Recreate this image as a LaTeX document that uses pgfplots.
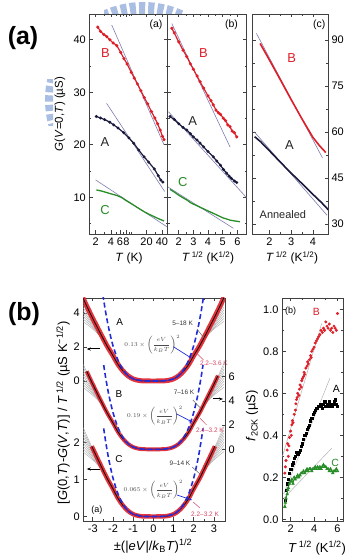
\documentclass[border=0pt]{standalone}
\usepackage{fontspec}
\setmainfont{Liberation Sans}
\usepackage{pgfplots}
\pgfplotsset{compat=1.18}
\usepackage{pgfplotstable}
\usetikzlibrary{arrows.meta}

\definecolor{rd}{RGB}{222,30,40}
\definecolor{nv}{RGB}{25,25,60}
\definecolor{gn}{RGB}{40,140,40}
\definecolor{fit}{RGB}{125,125,175}
\definecolor{bl}{RGB}{35,45,215}
\definecolor{wm}{RGB}{170,190,228}
\definecolor{pk}{RGB}{215,70,100}

% ---------- upper panel (a): G vs T (log) ----------
\pgfplotstableread{
x y
2.2 42.4
2.5 41.6
2.9 41.0
3.3 40.6
3.8 40.0
4.4 39.4
5.2 38.9
6.2 37.6
7.2 36.4
8.3 35.4
10 33.8
11.5 32.7
13.2 31.6
15.5 30.3
18 29.0
21 27.8
25 26.3
29 25.1
33 24.0
37 22.8
41 21.6
44 21.0
}\tBa
\pgfplotstableread{
x y
2.06 25.4
2.5 25.1
3 24.8
3.8 24.3
4.5 23.8
5.5 23.2
7.1 22.3
9 21.3
11.2 20.3
14 19.0
17.9 17.7
22 16.7
28.4 15.4
34 14.1
38 13.3
41.8 12.9
}\tAa
\pgfplotstableread{
x y
2.06 11.4
2.6 11.2
3.3 10.9
4.2 10.6
5.2 10.35
6.5 9.95
8 9.35
9.7 8.86
12 8.3
14.5 7.8
17.9 7.26
22 6.8
27 6.4
33 6.0
39 5.7
44 5.5
}\tCa
% ---------- upper panel (b): G vs T^1/2 ----------
\pgfplotstableread{
x y
1.53 42.2
1.7 41.3
2.0 39.6
2.3 38.0
2.55 36.8
2.8 35.4
3.0 34.4
3.25 33.1
3.46 32.0
3.7 30.8
4.0 29.3
4.2 28.4
4.36 27.6
4.55 26.6
4.7 26.1
4.85 25.8
5.05 25.05
5.2 24.6
5.35 23.8
5.5 23.45
5.65 22.6
5.8 22.3
5.96 21.5
}\tBb
\pgfplotstableread{
x y
1.41 25.4
1.7 24.8
2.0 24.0
2.3 23.3
2.55 22.8
2.8 22.1
3.0 21.5
3.25 20.9
3.46 20.3
3.7 19.6
4.0 18.7
4.36 17.7
4.6 16.9
4.85 16.1
5.05 15.3
5.27 14.6
5.45 14.0
5.6 13.6
5.8 13.1
5.96 12.8
}\tAb
\pgfplotstableread{
x y
1.41 11.5
1.7 11.0
2.0 10.4
2.3 9.9
2.55 9.5
2.8 9.0
3.0 8.7
3.25 8.4
3.46 8.1
3.7 7.8
4.0 7.4
4.36 6.95
4.7 6.5
5.0 6.1
5.27 5.87
5.5 5.65
5.8 5.5
6.18 5.35
}\tCb
% ---------- upper panel (c): annealed ----------
\pgfplotstableread{
x y
1.57 88.9
2.0 83.5
2.5 77.1
3.0 70.6
3.5 64.3
4.0 58.3
4.3 55.6
4.6 53.3
}\tBc
\pgfplotstableread{
x y
1.32 58.5
1.6 56.8
2.0 53.9
2.5 50.2
3.0 46.6
3.5 43.2
4.0 39.7
4.4 37.0
4.72 34.6
}\tAc
% ---------- lower panel (a): scaling curves ----------
\pgfplotstableread{
x g
-3.5 37.8
-3.3 33.9
-3.2 32.0
-3.05 29.2
-2.9 26.5
-2.6 21.2
-2.3 16.0
-2.0 11.5
-1.75 7.5
-1.5 4.5
-1.25 2.3
-1.0 0.95
-0.75 0.3
-0.5 0.05
0 0
0.5 0.05
0.75 0.3
1.0 0.95
1.25 2.3
1.5 4.5
1.75 7.5
2.0 11.5
2.3 16.0
2.6 21.2
2.9 26.5
3.05 29.2
3.2 32.0
3.3 33.9
3.5 37.8
}\shape
\pgfplotstableread{
x g1 g2 g3 g4 g5 g6 g7 g8 g9
2.0 11.5 11.5 11.5 11.5 11.5 11.5 11.5 11.5 11.5
2.3 16.0 16.0 16.0 16.0 16.0 16.0 16.0 16.0 16.0
2.6 19.85 20.01 20.18 20.34 20.50 20.66 20.83 20.99 21.15
2.9 22.68 23.14 23.60 24.06 24.52 24.98 25.44 25.90 26.36
3.2 24.98 25.83 26.67 27.52 28.36 29.21 30.05 30.90 31.74
3.5 27.0 28.3 29.6 30.9 32.2 33.5 34.8 36.1 37.4
}\fan
\pgfplotstableread{
x q
-2.5 39.06
-2.46 36.62
-2.35 30.50
-2.2 23.43
-2.0 16
-1.75 9.379
-1.5 5.0625
-1.25 2.441
-1.0 1
-0.5 0.0625
0 0
0.5 0.0625
1.0 1
1.25 2.441
1.5 5.0625
1.75 9.379
2.0 16
2.2 23.43
2.35 30.50
2.46 36.62
2.5 39.06
}\dash
% ---------- lower panel (b): f_2CK ----------
\pgfplotstableread{
x y
1.5 0.22
1.55 0.25
1.6 0.28
1.7 0.33
1.75 0.36
1.8 0.30
1.85 0.35
1.9 0.39
2.0 0.42
2.05 0.40
2.1 0.45
2.15 0.47
2.2 0.46
2.3 0.50
2.4 0.52
2.45 0.55
2.5 0.57
2.55 0.58
2.6 0.60
2.7 0.59
2.75 0.62
2.8 0.64
2.9 0.63
2.95 0.66
3.0 0.67
3.1 0.68
3.15 0.70
3.2 0.69
3.3 0.72
3.4 0.73
3.45 0.75
3.5 0.74
3.6 0.76
3.7 0.78
3.75 0.77
3.8 0.80
3.9 0.81
4.0 0.82
4.1 0.84
4.2 0.85
4.3 0.86
4.4 0.87
4.5 0.88
4.6 0.90
4.7 0.89
4.8 0.91
4.9 0.90
5.0 0.94
5.1 0.92
5.2 0.91
5.3 0.93
5.4 0.90
5.5 0.91
5.6 0.89
5.7 0.92
5.8 0.91
5.9 0.90
6.0 0.98
}\fB
\pgfplotstableread{
x y
1.5 0.09
1.6 0.14
1.7 0.17
1.8 0.19
1.9 0.22
2.0 0.24
2.1 0.26
2.2 0.27
2.3 0.29
2.4 0.30
2.5 0.32
2.6 0.31
2.7 0.32
2.8 0.33
2.9 0.35
3.0 0.36
3.1 0.38
3.2 0.40
3.3 0.41
3.4 0.43
3.5 0.44
3.6 0.45
3.7 0.47
3.8 0.48
3.9 0.50
4.0 0.51
4.1 0.52
4.2 0.53
4.3 0.53
4.4 0.54
4.5 0.55
4.6 0.54
4.7 0.53
4.8 0.55
4.9 0.56
5.0 0.54
5.1 0.55
5.2 0.54
5.3 0.56
5.4 0.55
5.5 0.54
5.6 0.55
5.7 0.56
5.8 0.57
5.9 0.55
6.0 0.54
}\fA
\pgfplotstableread{
x y
1.5 0.06
1.55 0.08
1.6 0.10
1.7 0.12
1.75 0.14
1.8 0.15
1.9 0.17
2.0 0.18
2.1 0.19
2.2 0.17
2.3 0.20
2.4 0.19
2.5 0.20
2.6 0.21
2.7 0.20
2.8 0.21
2.9 0.22
3.0 0.22
3.1 0.23
3.2 0.22
3.3 0.23
3.4 0.24
3.5 0.23
3.6 0.24
3.7 0.24
3.8 0.23
3.9 0.24
4.0 0.24
4.1 0.25
4.2 0.24
4.3 0.25
4.4 0.24
4.5 0.25
4.6 0.24
4.7 0.25
4.8 0.26
4.9 0.25
5.0 0.25
5.1 0.24
5.2 0.24
5.3 0.23
5.4 0.24
5.5 0.23
5.6 0.22
5.7 0.23
5.8 0.23
5.9 0.24
6.0 0.23
}\fC

\pgfplotsset{
  every axis/.append style={
    scale only axis, anchor=south west,
    tick align=inside,
    /pgf/number format/assume math mode=true,
    tick label style={font=\fontsize{11}{12}\selectfont},
    axis line style={line width=0.7pt, black!75},
    major tick length=3.5bp, minor tick length=2bp,
    tick style={line width=0.6pt, black!75},
    clip mode=individual,
  },
}

\newcommand{\fs}[1]{\fontsize{#1}{#1}\selectfont}

\begin{document}
\begin{tikzpicture}
\path[use as bounding box] (0,0) rectangle (352bp,556bp);

% watermark fragments
\begin{scope}
\clip (104bp,542bp) rectangle (183bp,556bp);
\draw[wm, line width=16bp, dash pattern=on 6bp off 3bp] (143bp,456bp) ++(60:90bp) arc[start angle=60, end angle=120, radius=90bp];
\end{scope}
\begin{scope}
\clip (42bp,430bp) rectangle (53bp,476bp);
\draw[wm, line width=16bp, dash pattern=on 6bp off 3bp] (143bp,456bp) ++(160:90bp) arc[start angle=160, end angle=200, radius=90bp];
\end{scope}

% big panel labels
\node[font=\bfseries\fs{25}] at (23bp,518bp) {(a)};
\node[font=\bfseries\fs{25}] at (24bp,242bp) {(b)};

% ===== upper (a) =====
\begin{axis}[at={(89.3bp,322bp)}, width=78.4bp, height=220bp,
  xmode=log, xmin=1.5, xmax=52, ymin=3.01, ymax=44.91,
  xtick={2,4,6,8,20,40}, xticklabels={2,4,6,8,20,40},
  minor xtick={3,5,7,9,10,30,50},
  ytick={10,20,30,40}, minor ytick={5,15,25,35}]
\addplot[fit, line width=0.6pt] coordinates {(4.14,42.8) (44,20.0)};
\addplot[fit, line width=0.6pt] coordinates {(3.28,27.9) (45.4,11.1)};
\addplot[fit, line width=0.6pt] coordinates {(2.0,13.3) (50,4.4)};
\addplot[rd, line width=1.2pt, mark=*, mark size=0.9pt] table[x=x,y=y]{\tBa};
\addplot[nv, line width=1.2pt, mark=*, mark size=0.8pt] table[x=x,y=y]{\tAa};
\addplot[gn, line width=1.3pt] table[x=x,y=y]{\tCa};
\node[rd, font=\fs{13}] at (axis cs:3.13,37.4) {B};
\node[black!85, font=\fs{13}] at (axis cs:3.05,20.6) {A};
\node[gn, font=\fs{13}] at (axis cs:3.05,7.6) {C};
\node[font=\fs{10.5}] at (axis cs:30.7,42.8) {(a)};
\end{axis}

% ===== upper (b) =====
\begin{axis}[at={(167.7bp,322bp)}, width=79bp, height=220bp,
  xmin=1.25, xmax=6.64, ymin=3.01, ymax=44.91,
  xtick={2,3,4,5,6}, minor x tick num=1,
  ytick={10,20,30,40}, minor ytick={5,15,25,35}, yticklabels={}]
\addplot[fit, line width=0.6pt] coordinates {(1.53,43.1) (5.5,19.6)};
\addplot[fit, line width=0.6pt] coordinates {(1.3,26.3) (6.64,9.9)};
\addplot[fit, line width=0.6pt] coordinates {(1.25,12.0) (5.73,4.1)};
\addplot[rd, line width=1.2pt, mark=*, mark size=0.9pt] table[x=x,y=y]{\tBb};
\addplot[nv, line width=1.2pt, mark=*, mark size=0.8pt] table[x=x,y=y]{\tAb};
\addplot[gn, line width=1.3pt] table[x=x,y=y]{\tCb};
\node[rd, font=\fs{13}] at (axis cs:3.68,37.4) {B};
\node[black!85, font=\fs{13}] at (axis cs:2.96,24.6) {A};
\node[gn, font=\fs{13}] at (axis cs:2.28,13.0) {C};
\node[font=\fs{10.5}] at (axis cs:5.6,42.8) {(b)};
\end{axis}

% ===== upper (c) =====
\begin{axis}[at={(252.7bp,322bp)}, width=75.3bp, height=220bp,
  xmin=1.23, xmax=4.7, ymin=26.74, ymax=98.5,
  xtick={2,3,4}, minor x tick num=1,
  ytick={30,45,60,75,90}, minor y tick num=1, yticklabel pos=right]
\addplot[fit, line width=0.6pt] coordinates {(1.4,92.2) (4.45,51.5)};
\addplot[fit, line width=0.6pt] coordinates {(1.3,60.1) (4.65,32.9)};
\addplot[rd, line width=1.6pt] table[x=x,y=y]{\tBc};
\addplot[nv, line width=1.6pt] table[x=x,y=y]{\tAc};
\node[rd, font=\fs{13}] at (axis cs:3.03,84) {B};
\node[black!85, font=\fs{13}] at (axis cs:2.92,55.8) {A};
\node[black!85, font=\fs{11}] at (axis cs:2.62,33) {Annealed};
\node[font=\fs{10.5}] at (axis cs:4.3,94.9) {(c)};
\end{axis}

% upper axis labels
\node[rotate=90, font=\fs{11.5}] at (60bp,442bp) {\textit{G}(\textit{V}=0,\textit{T}) (µS)};
\node[font=\fs{12}] at (129bp,298bp) {\textit{T} (K)};
\node[font=\fs{12}] at (208bp,298bp) {\textit{T}\,\textsuperscript{1/2} (K\textsuperscript{1/2})};
\node[font=\fs{12}] at (292bp,298bp) {\textit{T}\,\textsuperscript{1/2} (K\textsuperscript{1/2})};

% ===== lower (a) =====
\begin{axis}[at={(83.3bp,35bp)}, width=141.7bp, height=223bp,
  xmin=-3.47, xmax=3.55, ymin=0, ymax=223,
  xtick={-3,...,3}, minor x tick num=1,
  ytick={4.5,41.5,78.5,140,174,208}, yticklabels={0,1,2,0,2,4},
  ytick pos=left]
% gray fans
\pgfplotsinvokeforeach{1,...,9}{
  \addplot[gray!70, line width=0.4pt, smooth] table[x=x, y expr=140+2.21*\thisrow{g#1}]{\fan};
  \addplot[gray!70, line width=0.4pt, smooth] table[x expr=-\thisrow{x}, y expr=140+2.21*\thisrow{g#1}]{\fan};
  \addplot[gray!70, line width=0.4pt, smooth] table[x=x, y expr=71.7+2.30*\thisrow{g#1}]{\fan};
  \addplot[gray!70, line width=0.4pt, smooth] table[x expr=-\thisrow{x}, y expr=71.7+2.30*\thisrow{g#1}]{\fan};
  \addplot[gray!70, line width=0.4pt, smooth] table[x=x, y expr=4.5+2.405*\thisrow{g#1}]{\fan};
  \addplot[gray!70, line width=0.4pt, smooth] table[x expr=-\thisrow{x}, y expr=4.5+2.405*\thisrow{g#1}]{\fan};
}
% red data bands
\addplot[rd, line width=5pt, smooth, opacity=0.9] table[x=x, y expr=140+2.21*\thisrow{g}]{\shape};
\addplot[rd, line width=4pt, smooth, opacity=0.9, restrict x to domain=-3.3:3.25] table[x=x, y expr=71.7+2.30*\thisrow{g}]{\shape};
\addplot[rd, line width=4.5pt, smooth, opacity=0.9, restrict x to domain=-3.1:3.1] table[x=x, y expr=4.5+2.405*\thisrow{g}]{\shape};
% dark core
\addplot[black, line width=0.7pt, smooth] table[x=x, y expr=140+2.21*\thisrow{g}]{\shape};
\addplot[black, line width=0.7pt, smooth, restrict x to domain=-3.3:3.25] table[x=x, y expr=71.7+2.30*\thisrow{g}]{\shape};
\addplot[black, line width=0.7pt, smooth, restrict x to domain=-3.1:3.1] table[x=x, y expr=4.5+2.405*\thisrow{g}]{\shape};
% low-T blue data in the flat part
\addplot[bl!70!red, line width=1pt, smooth, restrict x to domain=-1.6:1.6] table[x=x, y expr=140+2.21*\thisrow{g}]{\shape};
\addplot[bl!70!red, line width=1pt, smooth, restrict x to domain=-1.6:1.6] table[x=x, y expr=71.7+2.30*\thisrow{g}]{\shape};
\addplot[bl!70!red, line width=1pt, smooth, restrict x to domain=-1.6:1.6] table[x=x, y expr=4.5+2.405*\thisrow{g}]{\shape};
% dashed power laws
\addplot[bl, line width=1.6pt, dash pattern=on 5bp off 3bp, smooth] table[x=x, y expr=140+2.21*\thisrow{q}]{\dash};
\addplot[bl, line width=1.6pt, dash pattern=on 5bp off 3bp, smooth, restrict x to domain=-2.47:2.47] table[x=x, y expr=71.7+2.30*\thisrow{q}]{\dash};
\addplot[bl, line width=1.6pt, dash pattern=on 5bp off 3bp, smooth, restrict x to domain=-2.47:2.47] table[x=x, y expr=4.5+2.405*\thisrow{q}]{\dash};
% arrows for axes
\draw[-{Stealth[length=4bp]}, line width=1pt] (axis cs:-2.65,172) -- (axis cs:-3.3,172);
\draw[-{Stealth[length=4bp]}, line width=1pt] (axis cs:-2.65,52) -- (axis cs:-3.3,52);
\draw[-{Stealth[length=4bp]}, line width=1pt] (axis cs:2.96,122) -- (axis cs:3.45,122);
% labels
\node[font=\fs{10}] at (axis cs:-1.67,199) {A};
\node[font=\fs{10}] at (axis cs:-1.7,127) {B};
\node[font=\fs{10}] at (axis cs:-1.7,62) {C};
\node[font=\fs{9}] at (axis cs:-2.8,11) {(a)};
% annotations A
\node[font=\fs{6.5}, black!80] at (axis cs:1.45,198) {5–18 K};
\draw[black!60, line width=0.5pt] (axis cs:2.16,192) -- (axis cs:2.51,183);
\node[font=\fs{6.5}, black!70] at (axis cs:-0.05,176.5) {$\displaystyle 0.13\times\left(\frac{eV}{k_BT}\right)^{2}$};
\draw[bl, line width=0.7pt, -{Stealth[length=3bp]}] (axis cs:0.99,174.3) -- (axis cs:1.9,162.7);
\draw[pk, line width=0.5pt] (axis cs:2.15,167.7) -- (axis cs:2.48,161);
\node[font=\fs{6.5}, pk] at (axis cs:3.0,157.5) {2.2–3.6 K};
% annotations B
\node[font=\fs{6.5}, black!80] at (axis cs:1.52,128.3) {7–16 K};
\draw[black!60, line width=0.5pt] (axis cs:1.95,121) -- (axis cs:2.35,112.7);
\node[font=\fs{6.5}, black!70] at (axis cs:0.08,105) {$\displaystyle 0.19\times\left(\frac{eV}{k_BT}\right)^{2}$};
\draw[bl, line width=0.7pt, -{Stealth[length=3bp]}] (axis cs:1.16,107) -- (axis cs:1.9,99.3);
\draw[pk, line width=0.5pt] (axis cs:2.31,102.7) -- (axis cs:2.64,96);
\node[font=\fs{6.5}, pk] at (axis cs:2.8,91) {2.4–3.2 K};
% annotations C
\node[font=\fs{6.5}, black!80] at (axis cs:1.32,58) {9–14 K};
\draw[black!60, line width=0.5pt] (axis cs:1.92,54) -- (axis cs:2.31,47);
\node[font=\fs{6.5}, black!70] at (axis cs:0.0,31) {$\displaystyle 0.065\times\left(\frac{eV}{k_BT}\right)^{2}$};
\draw[bl, line width=0.7pt, -{Stealth[length=3bp]}] (axis cs:1.17,26) -- (axis cs:1.92,21);
\draw[pk, line width=0.5pt] (axis cs:1.97,19) -- (axis cs:2.31,13);
\node[font=\fs{6.5}, pk] at (axis cs:2.56,7) {2.2–3.2 K};
\end{axis}
% right-hand B scale
\begin{axis}[at={(83.3bp,35bp)}, width=141.7bp, height=223bp,
  xmin=-3.47, xmax=3.55, ymin=0, ymax=223,
  axis x line=none, axis y line*=right,
  ytick={71.7,95.9,120.1,144.3}, yticklabels={0,2,4,6}]
\end{axis}

% ===== lower (b) =====
\begin{axis}[at={(282bp,35bp)}, width=61bp, height=223bp,
  xmin=1.26, xmax=6.47, ymin=-0.008, ymax=1.054,
  xtick={2,4,6}, minor xtick={3,5},
  ytick={0,0.2,0.4,0.6,0.8,1.0}, minor y tick num=1,
  yticklabel style={/pgf/number format/.cd, fixed, fixed zerofill, precision=1}]
\addplot[gray!60, line width=0.5pt] coordinates {(1.3,0.30) (4.65,0.933)};
\addplot[gray!60, line width=0.5pt] coordinates {(1.4,0.12) (5.36,0.673)};
\addplot[gray!60, line width=0.5pt] coordinates {(1.4,0.10) (5.5,0.338)};
\addplot[rd, only marks, mark=*, mark size=1.3pt] table[x=x,y=y]{\fB};
\addplot[black, only marks, mark=square*, mark size=1.1pt] table[x=x,y=y]{\fA};
\addplot[gn, line width=0.8pt, mark=triangle*, mark size=1.3pt] table[x=x,y=y]{\fC};
\node[font=\fs{9}] at (axis cs:2.0,0.99) {(b)};
\node[rd, font=\fs{10.5}] at (axis cs:4.2,0.99) {B};
\node[font=\fs{10.5}] at (axis cs:5.9,0.62) {A};
\node[gn, font=\fs{10.5}] at (axis cs:5.8,0.27) {C};
\end{axis}

% lower axis labels
\node[rotate=90, font=\fs{13}] at (63bp,143bp) {[\textit{G}(0,\textit{T})-\textit{G}(\textit{V},\textit{T})] / \textit{T}\,\textsuperscript{1/2} (µS K\textsuperscript{−1/2})};
\node[font=\fs{13}] at (153bp,10bp) {±(|\textit{eV}|/\textit{k}\textsubscript{B}\textit{T})\textsuperscript{1/2}};
\node[rotate=90, font=\fs{13}] at (252bp,140bp) {\textit{f}\textsubscript{2CK} (µS)};
\node[font=\fs{13}] at (317bp,8bp) {\textit{T}\,\textsuperscript{1/2} (K\textsuperscript{1/2})};
\end{tikzpicture}
\end{document}
